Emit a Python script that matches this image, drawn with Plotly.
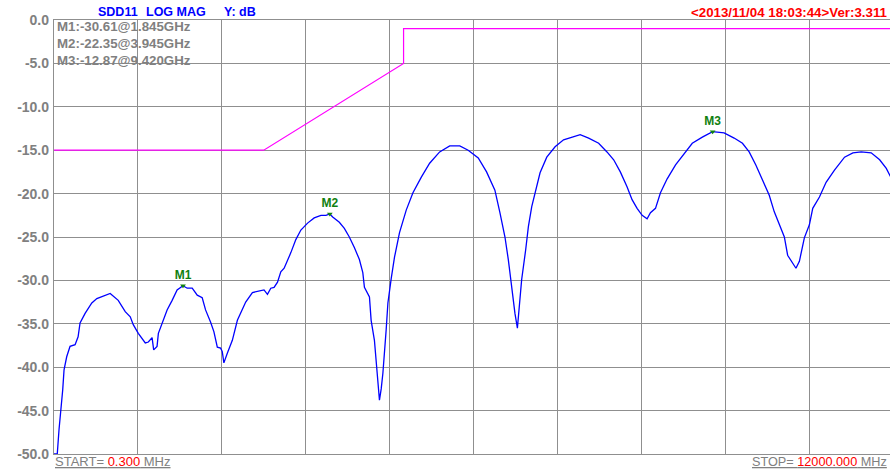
import plotly.graph_objects as go

# SDD11 sweep, 0.3 MHz .. 12000 MHz
freq_mhz = [
    0.3, 47, 72, 96, 125, 144, 182, 230, 302, 345, 373, 445, 541, 613, 704, 804,
    919, 1019, 1091, 1134, 1206, 1306, 1350, 1403, 1426, 1474, 1493, 1546, 1618,
    1690, 1761, 1845, 1905, 1977, 2049, 2120, 2168, 2239, 2287, 2336, 2383, 2407,
    2430, 2479, 2551, 2623, 2694, 2742, 2838, 2933, 3004, 3053, 3101, 3148, 3197,
    3244, 3292, 3388, 3459, 3531, 3627, 3722, 3818, 3890, 3945, 3986, 4081, 4153,
    4224, 4296, 4368, 4417, 4440, 4512, 4536, 4583, 4608, 4641, 4655, 4680, 4704,
    4751, 4776, 4823, 4871, 4942, 5038, 5134, 5254, 5373, 5516, 5660, 5804, 5924,
    6068, 6187, 6306, 6378, 6450, 6498, 6546, 6593, 6628, 6665, 6689, 6746, 6785,
    6833, 6880, 6952, 7048, 7167, 7288, 7407, 7526, 7647, 7790, 7909, 8005, 8100,
    8196, 8268, 8340, 8412, 8483, 8531, 8603, 8674, 8770, 8890, 9033, 9129, 9273,
    9420, 9584, 9728, 9847, 9943, 10038, 10134, 10230, 10302, 10374, 10446, 10493,
    10565, 10612, 10661, 10732, 10804, 10852, 10948, 11043, 11163, 11307, 11426,
    11545, 11688, 11809, 11904, 12000,
]
sdd11_db = [
    -50.0, -50.0, -47.2, -45.3, -42.6, -40.3, -38.8, -37.6, -37.4, -36.5, -34.9,
    -33.8, -32.6, -32.1, -31.8, -31.5, -32.3, -33.6, -34.2, -35.1, -36.1, -37.2,
    -37.1, -36.6, -38.0, -37.6, -36.1, -34.9, -33.4, -32.3, -31.1, -30.61, -30.9,
    -30.9, -31.7, -32.0, -33.4, -34.8, -35.9, -37.7, -37.8, -38.2, -39.5, -38.4,
    -36.9, -34.6, -33.4, -32.5, -31.4, -31.2, -31.1, -31.6, -30.9, -30.8, -30.2,
    -29.0, -28.6, -26.8, -25.3, -24.2, -23.4, -22.8, -22.5, -22.5, -22.35, -22.7,
    -23.3, -24.0, -25.0, -26.2, -27.6, -29.1, -30.8, -31.9, -34.6, -36.9, -39.5,
    -42.6, -43.8, -42.5, -40.7, -35.7, -32.6, -29.8, -27.3, -24.5, -21.9, -19.9,
    -18.1, -16.5, -15.2, -14.5, -14.5, -15.0, -15.9, -17.5, -19.6, -22.2, -25.0,
    -27.6, -30.8, -33.8, -35.5, -32.6, -29.9, -26.5, -23.8, -21.5, -19.9, -17.6,
    -15.8, -14.6, -13.8, -13.5, -13.2, -13.6, -14.2, -15.2, -16.1, -17.5, -19.2,
    -20.7, -21.7, -22.5, -22.9, -22.2, -21.7, -19.9, -18.3, -16.7, -15.2, -14.2,
    -13.5, -12.87, -13.0, -13.6, -14.2, -15.2, -16.7, -18.4, -20.2, -22.1, -23.6,
    -25.0, -27.1, -28.0, -28.6, -27.8, -25.1, -23.6, -21.7, -20.4, -18.7, -17.3,
    -15.8, -15.3, -15.2, -15.3, -16.1, -17.1, -18.6,
]

# Limit mask
limit_freq_mhz = [0.3, 3000, 5000, 5000, 12000]
limit_db = [-15, -15, -5, -1, -1]

# Markers
marker_names = ["M1", "M2", "M3"]
marker_freq_mhz = [1845, 3945, 9420]
marker_db = [-30.61, -22.35, -12.87]

# Axes
y_ticks = [0, -5, -10, -15, -20, -25, -30, -35, -40, -45, -50]
x_grid_mhz = [0.3 + 1199.97 * k for k in range(11)]
start_mhz = 0.3
stop_mhz = 12000.0

# Header words
header_words = ["SDD11", "LOG MAG", "Y: dB"]
stamp_text = "<2013/11/04 18:03:44>Ver:3.311"

FONT = "Liberation Sans, Arial, sans-serif"
GRAY = "#808080"
GRID = "#8f8f8f"

fig = go.Figure()

fig.add_trace(go.Scatter(
    x=limit_freq_mhz, y=limit_db, mode="lines",
    line=dict(color="#ff00ff", width=1.2), hoverinfo="skip",
))
fig.add_trace(go.Scatter(
    x=freq_mhz, y=sdd11_db, mode="lines",
    line=dict(color="#0000ff", width=1.3),
))
fig.add_trace(go.Scatter(
    x=marker_freq_mhz, y=marker_db, mode="markers+text",
    text=marker_names, textposition="top center",
    textfont=dict(family=FONT, size=12, color="#108010", weight="bold"),
    marker=dict(symbol="triangle-down", size=5, color="#108010"),
))

# Plot area: x 54..890 px, y 20..454 px
PL, PT, PB, PW = 54, 20, 454, 836
PH = PB - PT


def px(x):
    return (x - PL) / PW


def py(y):
    return (PB - y) / PH


annotations = []

# Header
for word, left in zip(header_words, [96, 144, 222]):
    annotations.append(dict(
        x=px(left), y=py(12), xref="paper", yref="paper",
        xanchor="left", yanchor="middle", text=word, showarrow=False,
        font=dict(family=FONT, size=12.5, color="#0000ff", weight="bold"),
    ))
annotations.append(dict(
    x=px(890), y=py(12), xref="paper", yref="paper", xanchor="right", yanchor="middle",
    text=stamp_text.replace("<", "&lt;").replace(">", "&gt;"),
    showarrow=False,
    font=dict(family=FONT, size=13.3, color="#ff0000", weight="bold"),
))

# Marker readouts
for i, (name, f, v) in enumerate(zip(marker_names, marker_freq_mhz, marker_db)):
    annotations.append(dict(
        x=px(55), y=py(27 + 17 * i), xref="paper", yref="paper",
        xanchor="left", yanchor="middle",
        text=f"{name}:{v:.2f}@{f / 1000:.3f}GHz", showarrow=False,
        font=dict(family=FONT, size=13.3, color=GRAY, weight="bold"),
    ))

# Start / stop
annotations.append(dict(
    x=px(53), y=py(462), xref="paper", yref="paper", xanchor="left", yanchor="middle",
    text=f"<u>START=\u00a0<span style='color:#ff0000'>{start_mhz:.3f}</span>\u00a0MHz</u>",
    showarrow=False, font=dict(family=FONT, size=13, color=GRAY),
))
annotations.append(dict(
    x=px(889), y=py(462), xref="paper", yref="paper", xanchor="right", yanchor="middle",
    text=f"<u>STOP=\u00a0<span style='color:#ff0000'>{stop_mhz:.3f}</span>\u00a0MHz</u>",
    showarrow=False, font=dict(family=FONT, size=12.7, color=GRAY),
))

fig.update_layout(
    width=890, height=470,
    margin=dict(l=PL, r=0, t=PT, b=470 - PB, pad=0),
    paper_bgcolor="white", plot_bgcolor="white",
    showlegend=False,
    annotations=annotations,
    xaxis=dict(
        range=[start_mhz, 11957], tickvals=x_grid_mhz, showticklabels=False,
        showgrid=True, gridcolor=GRID, gridwidth=1.3, zeroline=False,
        showline=True, linecolor=GRID, linewidth=1.3, mirror=True, ticks="",
        fixedrange=True,
    ),
    yaxis=dict(
        range=[-50, 0], tickvals=y_ticks, ticktext=[f"{v:.1f}" for v in y_ticks],
        tickfont=dict(family=FONT, size=14, color=GRAY, weight="bold"),
        showgrid=True, gridcolor=GRID, gridwidth=1.3, zeroline=False,
        showline=True, linecolor=GRID, linewidth=1.3, ticks="",
        ticklabelstandoff=1, fixedrange=True,
    ),
)

fig.write_html("out.html")
